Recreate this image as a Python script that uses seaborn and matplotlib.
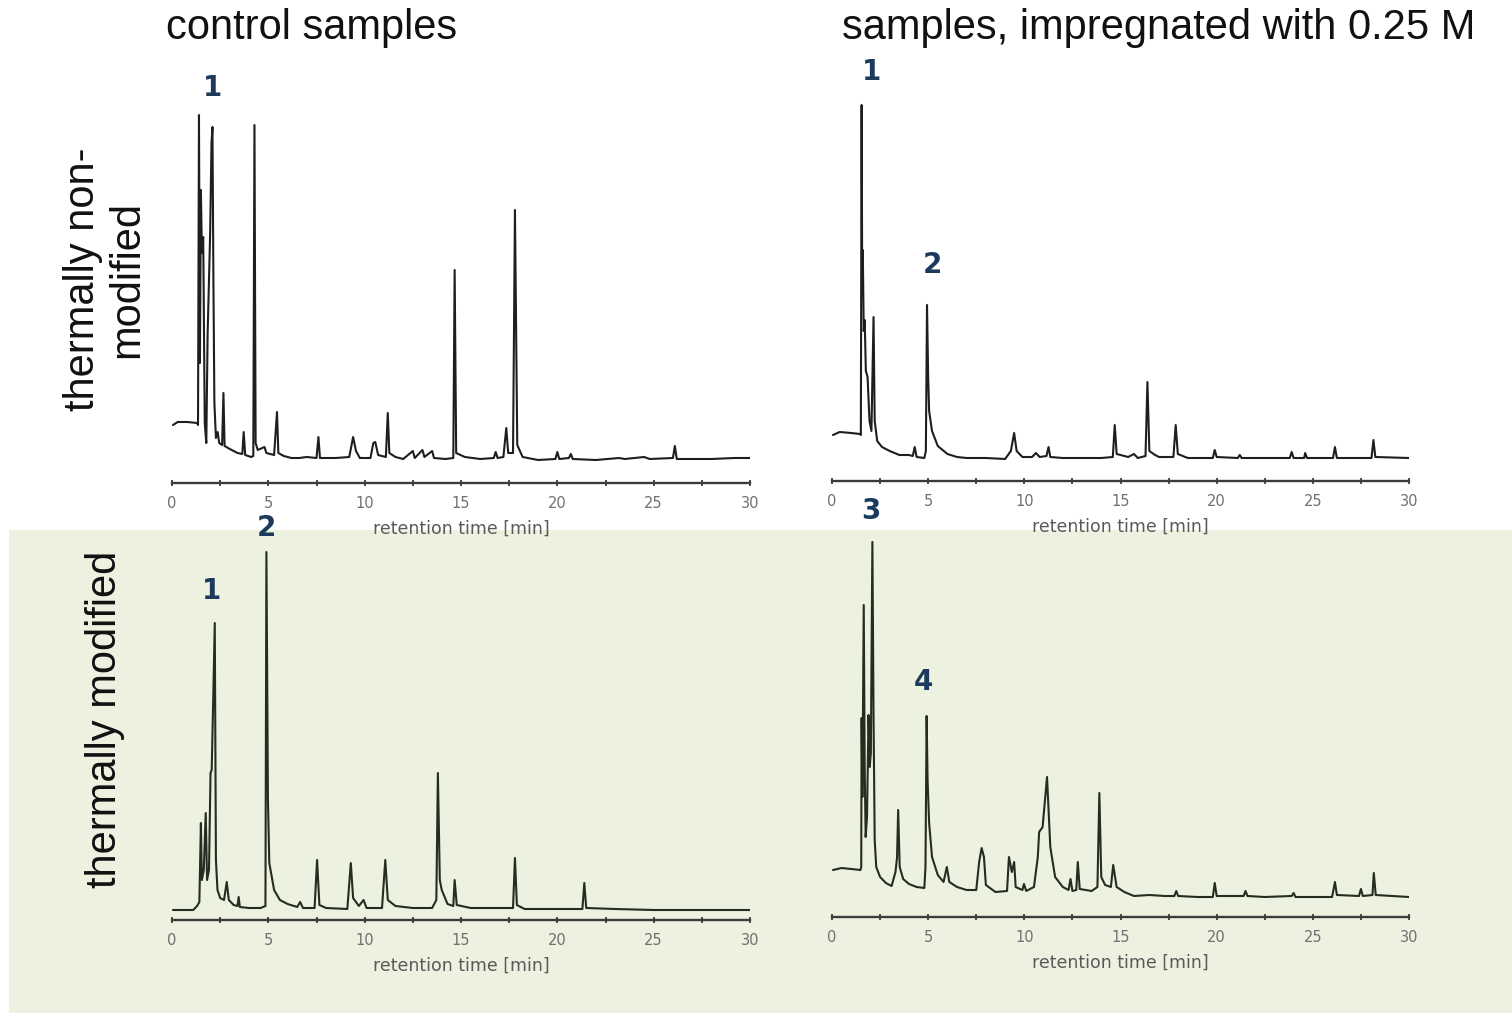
import numpy as np
import pandas as pd
import matplotlib
matplotlib.use("Agg")
import matplotlib.pyplot as plt
import seaborn as sns
from matplotlib.patches import Rectangle

# ---------------- data (retention time [min], detector signal [a.u.]) ----------------
# thermally non-modified, control samples
tl_time = [0.05, 0.3, 0.8, 1.30, 1.35, 1.40, 1.45, 1.50, 1.55, 1.62, 1.70, 1.78, 1.85, 1.92, 1.98,
           2.05, 2.10, 2.15, 2.20, 2.28, 2.37, 2.45, 2.60, 2.67, 2.73, 3.0, 3.4, 3.65, 3.72, 3.80,
           4.1, 4.22, 4.28, 4.34, 4.45, 4.8, 4.9, 5.3, 5.45, 5.52, 5.8, 6.2, 6.6, 7.0, 7.5,
           7.6, 7.68, 8.5, 9.2, 9.4, 9.55, 9.75, 10.3, 10.45, 10.55, 10.7, 11.1, 11.2, 11.28, 11.6,
           12.0, 12.5, 12.6, 13.0, 13.1, 13.5, 13.6, 14.2, 14.6, 14.67, 14.75, 15.2, 16.0, 16.7, 16.8,
           16.9, 17.2, 17.35, 17.45, 17.7, 17.8, 17.92, 18.2, 19.0, 19.9, 20.0, 20.1, 20.6, 20.7, 20.8,
           22.0, 23.2, 23.5, 24.5, 24.8, 26.0, 26.1, 26.2, 28.0, 29.2, 30.0]
tl_signal = [58, 61, 61, 60, 58, 368, 120, 293, 230, 246, 60, 40, 150, 203, 250,
             340, 356, 200, 80, 45, 51, 40, 38, 90, 37, 34, 30, 29, 51, 28,
             26, 27, 358, 40, 33, 36, 30, 28, 71, 30, 27, 25, 25, 26, 25,
             46, 25, 25, 26, 46, 32, 25, 25, 40, 41, 28, 26, 70, 30, 26,
             24, 32, 25, 33, 26, 32, 25, 24, 25, 213, 30, 26, 24, 25, 31,
             25, 26, 55, 30, 30, 273, 38, 26, 23, 24, 31, 24, 25, 29, 24,
             23, 25, 24, 26, 24, 25, 37, 24, 24, 25, 25]

# thermally non-modified, impregnated with 0.25 M
tr_time = [0.05, 0.4, 1.0, 1.45, 1.50, 1.54, 1.57, 1.60, 1.65, 1.70, 1.76, 1.85, 1.95, 2.05, 2.16,
           2.22, 2.35, 2.6, 3.0, 3.5, 4.0, 4.2, 4.3, 4.4, 4.8, 4.88, 4.94, 5.0, 5.05, 5.2,
           5.5, 6.0, 6.5, 7.0, 8.0, 9.0, 9.3, 9.47, 9.6, 9.9, 10.4, 10.6, 10.8, 11.15, 11.26,
           11.35, 12.0, 13.0, 14.0, 14.6, 14.7, 14.8, 15.4, 15.7, 15.9, 16.3, 16.4, 16.5, 16.8, 17.0,
           17.75, 17.87, 17.98, 18.5, 19.8, 19.9, 20.0, 21.1, 21.2, 21.3, 23.8, 23.9, 24.0, 24.55, 24.6,
           24.7, 26.05, 26.15, 26.25, 28.05, 28.15, 28.25, 30.0]
tr_signal = [46, 49, 48, 47, 46, 376, 200, 231, 150, 161, 110, 104, 60, 50, 164,
             60, 40, 34, 30, 26, 26, 25, 34, 24, 23, 30, 176, 104, 70, 50,
             35, 27, 24, 23, 23, 22, 30, 48, 30, 24, 24, 28, 24, 25, 34,
             24, 23, 23, 23, 24, 56, 27, 24, 27, 23, 25, 99, 30, 26, 24,
             24, 56, 27, 23, 23, 31, 24, 23, 26, 23, 23, 29, 23, 23, 28,
             23, 23, 34, 23, 23, 41, 24, 23]

# thermally modified, control samples
bl_time = [0.05, 1.1, 1.3, 1.42, 1.50, 1.55, 1.65, 1.75, 1.82, 1.92, 2.0, 2.06, 2.12, 2.22, 2.28,
           2.36, 2.5, 2.7, 2.84, 2.95, 3.2, 3.4, 3.46, 3.52, 4.0, 4.6, 4.85, 4.90, 4.98, 5.05,
           5.3, 5.6, 6.0, 6.5, 6.65, 6.8, 7.4, 7.53, 7.65, 8.0, 9.1, 9.28, 9.4, 9.7, 9.94,
           10.1, 10.9, 11.07, 11.2, 11.6, 12.5, 13.5, 13.72, 13.8, 13.9, 14.0, 14.3, 14.6, 14.67, 14.78,
           15.5, 16.5, 17.7, 17.8, 17.9, 18.3, 19.5, 21.3, 21.4, 21.5, 23.0, 25.0, 27.0, 30.0]
bl_signal = [10, 10, 14, 18, 97, 40, 50, 107, 40, 50, 147, 150, 203, 297, 60,
             30, 22, 20, 38, 20, 15, 14, 23, 13, 12, 12, 14, 368, 120, 57,
             30, 20, 16, 13, 18, 12, 12, 60, 15, 12, 11, 57, 22, 14, 20,
             12, 12, 60, 20, 14, 12, 12, 20, 147, 40, 30, 16, 14, 40, 15,
             12, 12, 12, 62, 15, 11, 11, 11, 37, 12, 11, 10, 10, 10]

# thermally modified, impregnated with 0.25 M
br_time = [0.05, 0.5, 1.0, 1.48, 1.52, 1.54, 1.58, 1.65, 1.70, 1.75, 1.82, 1.90, 1.96, 2.02, 2.10,
           2.16, 2.22, 2.3, 2.5, 2.8, 3.1, 3.3, 3.38, 3.44, 3.52, 3.7, 4.0, 4.4, 4.8, 4.86,
           4.92, 4.97, 5.05, 5.2, 5.5, 5.8, 5.97, 6.1, 6.5, 7.0, 7.5, 7.65, 7.78, 7.9, 8.0,
           8.5, 9.1, 9.2, 9.35, 9.47, 9.55, 9.9, 9.98, 10.1, 10.5, 10.7, 10.77, 10.95, 11.18, 11.35,
           11.6, 12.0, 12.3, 12.4, 12.5, 12.7, 12.78, 12.88, 13.5, 13.8, 13.9, 14.0, 14.2, 14.5, 14.62,
           14.8, 15.2, 15.7, 16.5, 17.3, 17.8, 17.9, 18.0, 19.0, 19.8, 19.9, 20.0, 21.4, 21.5, 21.6,
           22.5, 23.9, 24.0, 24.1, 26.0, 26.15, 26.25, 27.4, 27.5, 27.6, 28.1, 28.17, 28.27, 30.0]
br_signal = [47, 49, 48, 47, 50, 199, 120, 312, 150, 80, 100, 202, 150, 164, 375,
             200, 77, 50, 40, 34, 31, 45, 59, 107, 50, 38, 33, 30, 29, 50,
             201, 137, 94, 60, 42, 35, 50, 35, 30, 27, 27, 55, 69, 60, 32,
             25, 26, 60, 45, 55, 30, 27, 33, 26, 30, 60, 85, 90, 140, 70,
             40, 30, 27, 38, 26, 27, 55, 28, 26, 30, 124, 40, 32, 30, 52,
             30, 25, 21, 22, 21, 21, 26, 21, 20, 20, 34, 21, 21, 26, 21,
             20, 21, 24, 20, 20, 35, 22, 21, 28, 21, 22, 44, 22, 20]

# peak labels: (label, retention time, signal level)
tl_labels = [("1", 2.08, 395)]
tr_labels = [("1", 2.03, 409), ("2", 5.2, 216)]
bl_labels = [("2", 4.88, 392), ("1", 2.03, 329)]
br_labels = [("3", 2.03, 406), ("4", 4.73, 235)]

col_titles = ["control samples", "samples, impregnated with 0.25 M"]
row_titles = ["thermally non-\nmodified", "thermally modified"]
x_label = "retention time [min]"
major_ticks = [0, 5, 10, 15, 20, 25, 30]
minor_ticks = [2.5, 7.5, 12.5, 17.5, 22.5, 27.5]

# ---------------- figure ----------------
sns.set_theme(style="white")
plt.rcParams["font.family"] = ["Liberation Sans", "DejaVu Sans"]

W, H = 1512, 1013
fig = plt.figure(figsize=(W / 100, H / 100), dpi=100)
fig.patch.set_facecolor("white")
fig.patches.append(Rectangle((9 / W, 0), 1 - 9 / W, (H - 530) / H, transform=fig.transFigure,
                             facecolor="#edf1df", edgecolor="none", zorder=-10))

panels = [
    (tl_time, tl_signal, tl_labels, (172, 750, 483, 60), "#1e1e1e"),
    (tr_time, tr_signal, tr_labels, (832, 1409, 481, 60), "#1e1e1e"),
    (bl_time, bl_signal, bl_labels, (172, 750, 920, 500), "#262c1f"),
    (br_time, br_signal, br_labels, (832, 1409, 917, 500), "#262c1f"),
]

for t, s, labels, (x0, x1, yax, ytop), lc in panels:
    ax = fig.add_axes([x0 / W, 1 - yax / H, (x1 - x0) / W, (yax - ytop) / H])
    ax.set_facecolor("none")
    df = pd.DataFrame({"t": t, "s": s})
    sns.lineplot(data=df, x="t", y="s", ax=ax, color=lc, linewidth=1.5,
                 sort=False, estimator=None)
    ax.set_xlim(0, 30)
    ax.set_ylim(0, yax - ytop)
    for sp in ["left", "top", "right"]:
        ax.spines[sp].set_visible(False)
    ax.spines["bottom"].set_color("#3c3c3c")
    ax.spines["bottom"].set_linewidth(1.7)
    ax.set_yticks([])
    ax.set_ylabel("")
    ax.set_xticks(major_ticks)
    ax.set_xticks(minor_ticks, minor=True)
    ax.set_xticklabels([str(v) for v in major_ticks], family="DejaVu Sans")
    ax.tick_params(axis="x", which="both", bottom=True, direction="inout", length=5,
                   width=1.3, color="#3c3c3c", labelsize=10.5, labelcolor="#707070", pad=7)
    ax.set_xlabel(x_label, fontsize=12.5, color="#5a5a5a", family="DejaVu Sans", labelpad=6)
    for lab, lt, ls in labels:
        ax.text(lt, ls, lab, ha="center", va="center", fontsize=20, fontweight="bold",
                color="#1b3a5c", family="DejaVu Sans", clip_on=False)

fig.text(312 / W, 1 - 28 / H, col_titles[0], ha="center", va="center", fontsize=30, color="#111111")
fig.text(1159 / W, 1 - 28 / H, col_titles[1], ha="center", va="center", fontsize=30, color="#111111")
fig.text(105 / W, 1 - 279 / H, row_titles[0], ha="center", va="center", rotation=90,
         fontsize=30, color="#111111", linespacing=1.15, multialignment="center")
fig.text(105 / W, 1 - 719 / H, row_titles[1], ha="center", va="center", rotation=90,
         fontsize=30, color="#111111")

fig.savefig("out.png", dpi=100)
